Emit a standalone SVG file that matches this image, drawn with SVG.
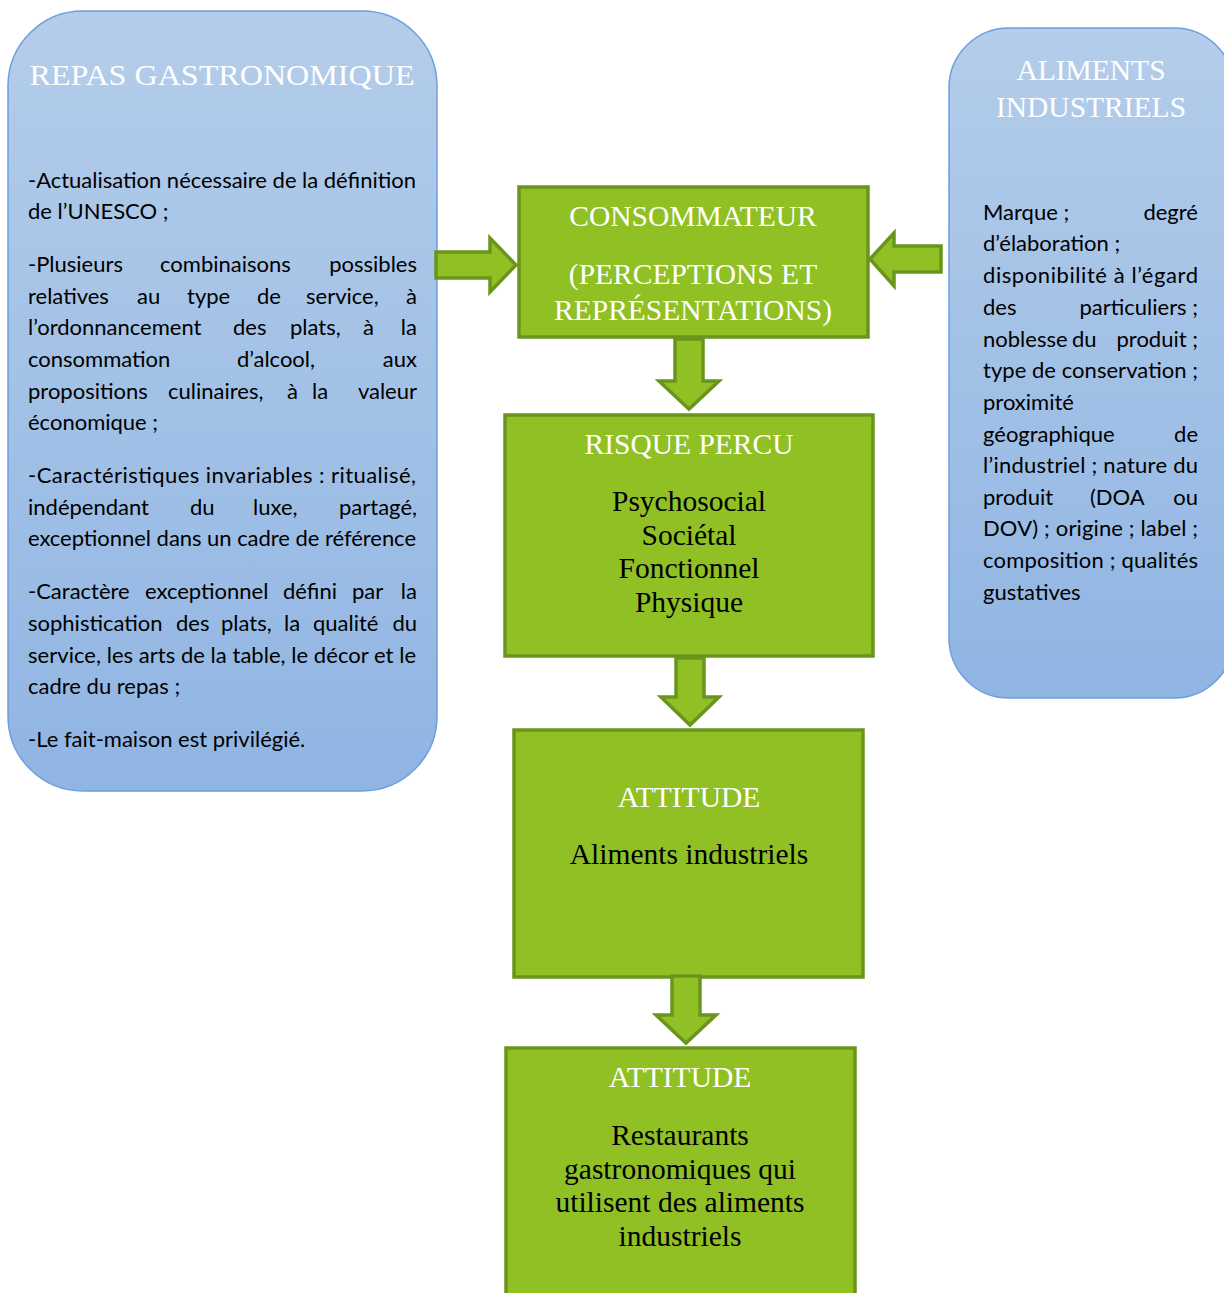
<svg xmlns="http://www.w3.org/2000/svg" width="1224" height="1293" viewBox="0 0 1224 1293">
<defs>
<linearGradient id="blueGrad" x1="0" y1="0" x2="0" y2="1">
<stop offset="0" stop-color="#b4cdea"/>
<stop offset="1" stop-color="#90b5e3"/>
</linearGradient>
<style>
.blue{fill:url(#blueGrad);stroke:#6c9fdc;stroke-width:1.5}
.green{fill:#91c024;stroke:#6a951d;stroke-width:3.5}
.arrow{fill:#91c024;stroke:#6a951d;stroke-width:3.5;stroke-linejoin:miter}
.title{font-family:"Liberation Serif","Times New Roman",serif;font-size:29.5px;fill:#ffffff;text-anchor:middle}
.gtext{font-family:"Liberation Serif","Times New Roman",serif;font-size:29.5px;fill:#000000;text-anchor:middle}
.body{font-family:Lato,"Liberation Sans",sans-serif;font-size:22px;fill:#000000}
.end{text-anchor:end}
</style>
</defs>
<rect width="1224" height="1293" fill="#ffffff"/>

<g id="repas-gastronomique">
<rect class="blue" x="8" y="11" width="429" height="780" rx="75" ry="75"/>
<text class="title" x="222" y="85" font-size="35" textLength="385" lengthAdjust="spacingAndGlyphs">REPAS GASTRONOMIQUE</text>
<g class="body">
<text x="28" y="188" textLength="388" lengthAdjust="spacing">-Actualisation nécessaire de la définition</text>
<text x="28" y="219">de l’UNESCO ;</text>
<text x="28" y="272">-Plusieurs</text><text x="160" y="272">combinaisons</text><text class="end" x="417" y="272">possibles</text>
<text x="28" y="304">relatives</text><text x="137" y="304">au</text><text x="187" y="304">type</text><text x="257" y="304">de</text><text x="306" y="304">service,</text><text class="end" x="417" y="304">à</text>
<text x="28" y="335">l’ordonnancement</text><text x="233" y="335">des</text><text x="290" y="335">plats,</text><text x="363" y="335">à</text><text class="end" x="417" y="335">la</text>
<text x="28" y="367">consommation</text><text x="237" y="367">d’alcool,</text><text class="end" x="417" y="367">aux</text>
<text x="28" y="399">propositions</text><text x="168" y="399">culinaires,</text><text x="287" y="399">à</text><text x="312" y="399">la</text><text class="end" x="417" y="399">valeur</text>
<text x="28" y="430">économique ;</text>
<text x="28" y="483" textLength="388" lengthAdjust="spacing">-Caractéristiques invariables : ritualisé,</text>
<text x="28" y="515">indépendant</text><text x="190" y="515">du</text><text x="253" y="515">luxe,</text><text class="end" x="417" y="515">partagé,</text>
<text x="28" y="546" textLength="388" lengthAdjust="spacing">exceptionnel dans un cadre de référence</text>
<text x="28" y="599">-Caractère</text><text x="145" y="599">exceptionnel</text><text x="283" y="599">défini</text><text x="352" y="599">par</text><text class="end" x="417" y="599">la</text>
<text x="28" y="631">sophistication</text><text x="176" y="631">des</text><text x="221" y="631">plats,</text><text x="284" y="631">la</text><text x="313" y="631">qualité</text><text class="end" x="417" y="631">du</text>
<text x="28" y="663" textLength="388" lengthAdjust="spacing">service, les arts de la table, le décor et le</text>
<text x="28" y="694">cadre du repas ;</text>
<text x="28" y="747">-Le fait-maison est privilégié.</text>
</g>
</g>

<g id="aliments-industriels">
<rect class="blue" x="949" y="28" width="285" height="670" rx="60" ry="60"/>
<text class="title" x="1091" y="80">ALIMENTS</text>
<text class="title" x="1091" y="117">INDUSTRIELS</text>
<g class="body">
<text x="983" y="220">Marque ;</text><text class="end" x="1198" y="220">degré</text>
<text x="983" y="251">d’élaboration ;</text>
<text x="983" y="283" textLength="215" lengthAdjust="spacing">disponibilité à l’égard</text>
<text x="983" y="315">des</text><text class="end" x="1198" y="315">particuliers ;</text>
<text x="983" y="347">noblesse</text><text x="1072" y="347">du</text><text class="end" x="1198" y="347">produit ;</text>
<text x="983" y="378" textLength="215" lengthAdjust="spacing">type de conservation ;</text>
<text x="983" y="410">proximité</text>
<text x="983" y="442">géographique</text><text class="end" x="1198" y="442">de</text>
<text x="983" y="473" textLength="215" lengthAdjust="spacing">l’industriel ; nature du</text>
<text x="983" y="505">produit</text><text x="1090" y="505">(DOA</text><text class="end" x="1198" y="505">ou</text>
<text x="983" y="536" textLength="215" lengthAdjust="spacing">DOV) ; origine ; label ;</text>
<text x="983" y="568" textLength="215" lengthAdjust="spacing">composition ; qualités</text>
<text x="983" y="600">gustatives</text>
</g>
</g>

<g id="consommateur">
<rect class="green" x="519" y="187" width="349" height="150"/>
<text class="title" x="693" y="226">CONSOMMATEUR</text>
<text class="title" x="693" y="284">(PERCEPTIONS ET</text>
<text class="title" x="693" y="320">REPRÉSENTATIONS)</text>
</g>

<g id="risque-percu">
<rect class="green" x="505" y="415" width="368" height="241"/>
<text class="title" x="689" y="454">RISQUE PERCU</text>
<text class="gtext" x="689" y="511">Psychosocial</text>
<text class="gtext" x="689" y="545">Sociétal</text>
<text class="gtext" x="689" y="578">Fonctionnel</text>
<text class="gtext" x="689" y="612">Physique</text>
</g>

<g id="attitude-aliments">
<rect class="green" x="514" y="730" width="349" height="247"/>
<text class="title" x="689" y="807">ATTITUDE</text>
<text class="gtext" x="689" y="864">Aliments industriels</text>
</g>

<g id="attitude-restaurants">
<rect class="green" x="506" y="1048" width="349" height="260"/>
<text class="title" x="680" y="1087">ATTITUDE</text>
<text class="gtext" x="680" y="1145">Restaurants</text>
<text class="gtext" x="680" y="1179">gastronomiques qui</text>
<text class="gtext" x="680" y="1212">utilisent des aliments</text>
<text class="gtext" x="680" y="1246">industriels</text>
</g>

<g id="connectors">
<polygon class="arrow" points="436,252 490,252 490,238 516,265 490,292 490,278 436,278"/>
<polygon class="arrow" points="941,246 894,246 894,233 870,259 894,286 894,272 941,272"/>
<polygon class="arrow" points="675,339 703,339 703,381 719,381 689,409 659,381 675,381"/>
<polygon class="arrow" points="676,658 704,658 704,697 719,697 690,725 661,697 676,697"/>
<polygon class="arrow" points="672,976 700,976 700,1015 716,1015 686,1043 656,1015 672,1015"/>
</g>
</svg>
